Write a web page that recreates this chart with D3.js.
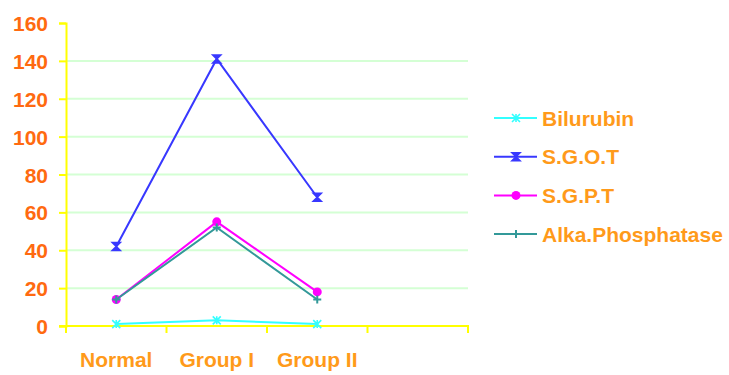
<!DOCTYPE html>
<html>
<head>
<meta charset="utf-8">
<script src="https://cdn.jsdelivr.net/npm/d3@7"></script>
<style>
  html, body { margin: 0; padding: 0; background: #fff; }
  svg { display: block; }
  text { font-family: "Liberation Sans", Arial, sans-serif; font-weight: bold; }
</style>
</head>
<body>
<svg id="chart" width="729" height="375"></svg>
<script>
// Liver function values per group
const categories = ["Normal", "Group I", "Group II", ""];
const seriesNames = ["Bilurubin", "S.G.O.T", "S.G.P.T", "Alka.Phosphatase"];
const bilirubin = [1, 3, 1];
const sgot = [42, 141, 68];
const sgpt = [14, 55, 18];
const alkaPhosphatase = [14, 52, 14];
const yTicks = [0, 20, 40, 60, 80, 100, 120, 140, 160];

const series = [
  { name: seriesNames[0], values: bilirubin, color: "#33ffff", marker: "star" },
  { name: seriesNames[1], values: sgot, color: "#3838ff", marker: "bowtie" },
  { name: seriesNames[2], values: sgpt, color: "#ff00ff", marker: "circle" },
  { name: seriesNames[3], values: alkaPhosphatase, color: "#339999", marker: "plus" }
];

const svg = d3.select("#chart");
const plotLeft = 66, plotRight = 468, plotTop = 23, plotBottom = 326;

const x = d3.scaleBand().domain(categories).range([plotLeft, plotRight]);
const y = d3.scaleLinear().domain([0, 160]).range([plotBottom, plotTop]);

// horizontal gridlines
svg.append("g").selectAll("line")
  .data(yTicks.filter(t => t > 0 && t < 160))
  .join("line")
  .attr("x1", plotLeft).attr("x2", plotRight)
  .attr("y1", d => y(d)).attr("y2", d => y(d))
  .attr("stroke", "#d4ffd4").attr("stroke-width", 2);

// y axis
const yAxis = svg.append("g")
  .attr("transform", `translate(${plotLeft},0)`)
  .call(d3.axisLeft(y).tickValues(yTicks).tickSize(7).tickPadding(11));
yAxis.select(".domain").attr("stroke", "#ffff00").attr("stroke-width", 2);
yAxis.selectAll(".tick line").attr("stroke", "#ffff00").attr("stroke-width", 2);
yAxis.selectAll(".tick text")
  .attr("fill", "#ff6a10").attr("font-size", 21).attr("dy", "0.36em")
  .style("font-family", "'Liberation Sans', Arial, sans-serif").style("font-weight", "bold");

// x axis: category labels
const xAxis = svg.append("g")
  .attr("transform", `translate(0,${plotBottom})`)
  .call(d3.axisBottom(x).tickSize(0).tickPadding(26));
xAxis.select(".domain").remove();
xAxis.selectAll(".tick text")
  .attr("fill", "#ff9a1a").attr("font-size", 21)
  .style("font-family", "'Liberation Sans', Arial, sans-serif").style("font-weight", "bold");

// x axis line with ticks at band boundaries
const bounds = categories.map(c => x(c)).concat([x(categories[categories.length - 1]) + x.bandwidth()]);
svg.append("g").selectAll("line")
  .data(bounds)
  .join("line")
  .attr("x1", d => d).attr("x2", d => d)
  .attr("y1", plotBottom).attr("y2", plotBottom + 7)
  .attr("stroke", "#ffff00").attr("stroke-width", 2);
svg.append("line")
  .attr("x1", plotLeft - 7).attr("x2", plotRight + 1)
  .attr("y1", plotBottom).attr("y2", plotBottom)
  .attr("stroke", "#ffff00").attr("stroke-width", 2);

function drawMarker(g, type, color, cx, cy) {
  const s = 4;
  if (type === "circle") {
    g.append("circle").attr("cx", cx).attr("cy", cy).attr("r", 4.5).attr("fill", color);
  } else if (type === "star") {
    g.append("path")
      .attr("d", `M${cx - s},${cy - s}L${cx + s},${cy + s}M${cx - s},${cy + s}L${cx + s},${cy - s}M${cx},${cy - s}L${cx},${cy + s}`)
      .attr("stroke", color).attr("stroke-width", 1.6).attr("fill", "none");
  } else if (type === "bowtie") {
    g.append("path")
      .attr("d", `M${cx - s},${cy - s}L${cx + s},${cy - s}L${cx - s},${cy + s}L${cx + s},${cy + s}Z`)
      .attr("stroke", color).attr("stroke-width", 1.6).attr("fill", color);
  } else if (type === "plus") {
    g.append("path")
      .attr("d", `M${cx - s},${cy}L${cx + s},${cy}M${cx},${cy - s}L${cx},${cy + s}`)
      .attr("stroke", color).attr("stroke-width", 2).attr("fill", "none");
  }
}

const line = d3.line()
  .x((d, i) => x(categories[i]) + x.bandwidth() / 2)
  .y(d => y(d));

// series lines and markers
series.forEach(s => {
  const g = svg.append("g");
  g.append("path")
    .attr("d", line(s.values))
    .attr("fill", "none").attr("stroke", s.color).attr("stroke-width", 2);
  s.values.forEach((v, i) => drawMarker(g, s.marker, s.color, x(categories[i]) + x.bandwidth() / 2, y(v)));
});

// legend
const legend = svg.append("g");
series.forEach((s, i) => {
  const ly = 118 + i * 38.7;
  const g = legend.append("g");
  g.append("line").attr("x1", 494).attr("x2", 537).attr("y1", ly).attr("y2", ly)
    .attr("stroke", s.color).attr("stroke-width", 2);
  drawMarker(g, s.marker, s.color, 516, ly);
  g.append("text").attr("x", 542).attr("y", ly).attr("dy", "0.36em")
    .attr("fill", "#ff9a1a").attr("font-size", 21).text(s.name);
});
</script>
</body>
</html>
